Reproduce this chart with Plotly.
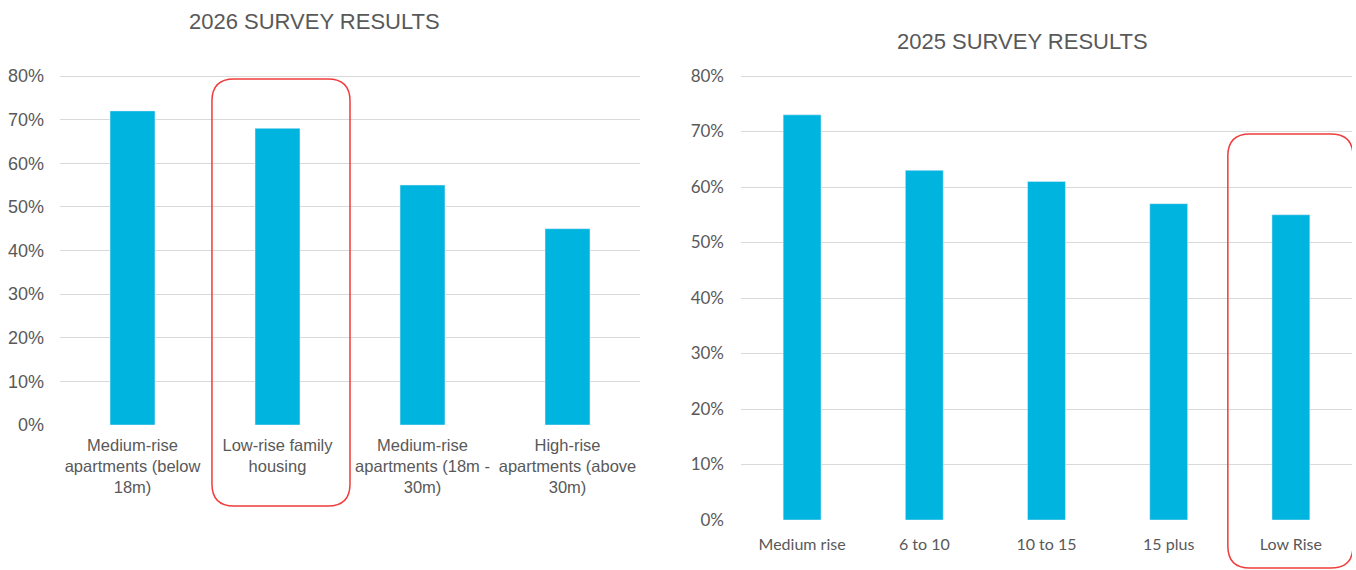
import plotly.graph_objects as go

# ---- data ----
cats_2026 = ["Medium-rise<br>apartments (below<br>18m)", "Low-rise family<br>housing",
             "Medium-rise<br>apartments (18m -<br>30m)", "High-rise<br>apartments (above<br>30m)"]
vals_2026 = [0.72, 0.68, 0.55, 0.45]
cats_2025 = ["Medium rise", "6 to 10", "10 to 15", "15 plus", "Low Rise"]
vals_2025 = [0.73, 0.63, 0.61, 0.57, 0.55]
y_ticks = [0, 0.1, 0.2, 0.3, 0.4, 0.5, 0.6, 0.7, 0.8]

BAR = "#00B4E0"
GRID = "#D9D9D9"
TXT = "#595959"
W, H = 1356, 570
YMAX = 0.803  # slightly above 80% so the top gridline is drawn

fig = go.Figure()
fig.add_trace(go.Bar(x=list(range(len(cats_2026))), y=vals_2026, marker_color=BAR,
                     width=0.31, xaxis="x", yaxis="y", showlegend=False))
fig.add_trace(go.Bar(x=list(range(len(cats_2025))), y=vals_2025, marker_color=BAR,
                     width=0.31, xaxis="x2", yaxis="y2", showlegend=False))

def px_x(p):
    return p / W

def px_y(p):
    return (H - p) / H

def y_domain(p0, p80):
    top = p0 - (p0 - p80) * YMAX / 0.8
    return [px_y(p0), px_y(top)]

axis_common = dict(showline=False, zeroline=False, ticks="", fixedrange=True, automargin=False)
fig.update_layout(
    width=W, height=H,
    margin=dict(l=0, r=0, t=0, b=0, autoexpand=False),
    paper_bgcolor="white", plot_bgcolor="white",
    xaxis=dict(domain=[px_x(60), px_x(640)], anchor="y", range=[-0.5, 3.5],
               tickmode="array", tickvals=list(range(4)), ticktext=cats_2026,
               showgrid=False, tickfont=dict(family="Liberation Sans", size=16.5, color=TXT),
               ticklabelstandoff=8, **axis_common),
    yaxis=dict(domain=y_domain(425, 76), anchor="x", range=[0, YMAX],
               tickvals=y_ticks, tickformat=".0%", showgrid=True, gridcolor=GRID, gridwidth=1,
               tickfont=dict(family="Liberation Sans", size=18, color=TXT),
               ticklabelstandoff=15, **axis_common),
    xaxis2=dict(domain=[px_x(741), px_x(1352)], anchor="y2", range=[-0.5, 4.5],
                tickmode="array", tickvals=list(range(5)), ticktext=cats_2025,
                showgrid=False, tickfont=dict(family="Lato", size=16, color=TXT),
                ticklabelstandoff=13, **axis_common),
    yaxis2=dict(domain=y_domain(520, 76), anchor="x2", range=[0, YMAX],
                tickvals=y_ticks, tickformat=".0%", showgrid=True, gridcolor=GRID, gridwidth=1,
                tickfont=dict(family="Lato", size=17, color=TXT),
                ticklabelstandoff=16, **axis_common),
)

fig.add_annotation(text="2026 SURVEY RESULTS", xref="paper", yref="paper",
                   x=px_x(314), y=px_y(21), showarrow=False, xanchor="center", yanchor="middle",
                   font=dict(family="Liberation Sans", size=22, color=TXT))
fig.add_annotation(text="2025 SURVEY RESULTS", xref="paper", yref="paper",
                   x=px_x(1022), y=px_y(41), showarrow=False, xanchor="center", yanchor="middle",
                   font=dict(family="Liberation Sans", size=22, color=TXT))

def rounded(x0, x1, y0, y1, rx, ry):
    return (f"M {x0+rx} {y1} L {x1-rx} {y1} Q {x1} {y1} {x1} {y1-ry} "
            f"L {x1} {y0+ry} Q {x1} {y0} {x1-rx} {y0} L {x0+rx} {y0} "
            f"Q {x0} {y0} {x0} {y0+ry} L {x0} {y1-ry} Q {x0} {y1} {x0+rx} {y1} Z")

# highlight boxes (x in category units, y in paper units)
cat_w1 = 580 / 4
fig.add_shape(type="path", xref="x", yref="paper",
              path=rounded(1 - 0.452, 1 + 0.50, px_y(506), px_y(79), 22 / cat_w1, 22 / H),
              line=dict(color="#F03C3C", width=1.5))
cat_w2 = 611 / 5
fig.add_shape(type="path", xref="x2", yref="paper",
              path=rounded(4 - 0.516, 4 + 0.508, px_y(568), px_y(134), 22 / cat_w2, 22 / H),
              line=dict(color="#F03C3C", width=1.5))

fig.write_html("out.html")
